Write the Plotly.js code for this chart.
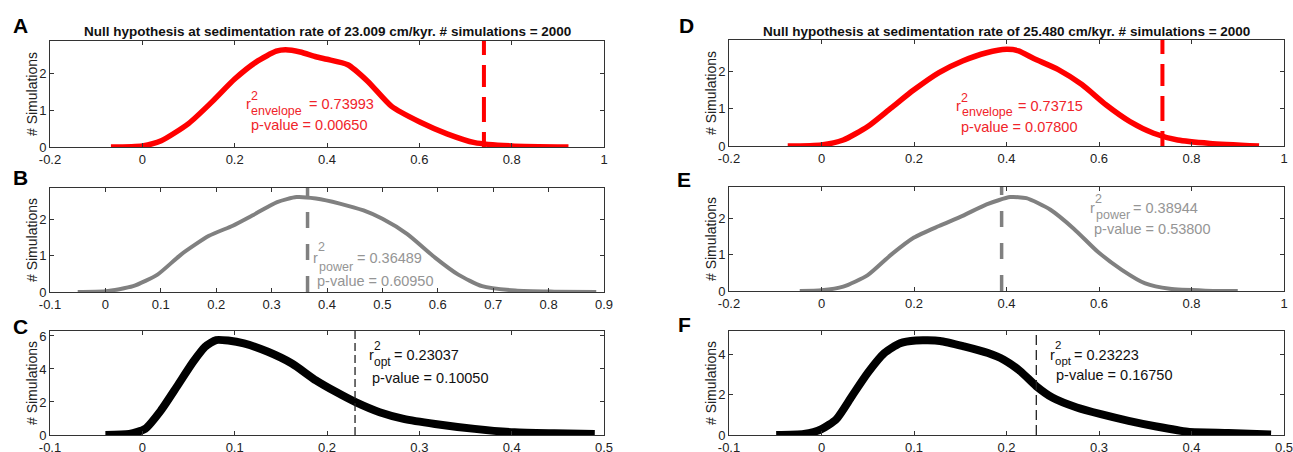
<!DOCTYPE html>
<html><head><meta charset="utf-8">
<script src="https://cdn.plot.ly/plotly-3.0.1.min.js"></script>
<style>html,body{margin:0;padding:0;background:#fff}#chart{width:1293px;height:452px}</style>
</head><body><div id="chart"></div>
<script>
// ---------------- DATA ----------------
const rateLeft = 23.009, rateRight = 25.480, nSimulations = 2000;

// A: envelope, left
const A_x = [-0.068, 0.0, 0.041, 0.10, 0.148, 0.2, 0.247, 0.29, 0.31, 0.342, 0.376, 0.40, 0.445, 0.488, 0.54, 0.6, 0.66, 0.72, 0.8, 0.923];
const A_y = [0, 0.03, 0.17, 0.64, 1.2, 1.86, 2.33, 2.62, 2.66, 2.6, 2.47, 2.40, 2.25, 1.8, 1.11, 0.69, 0.36, 0.12, 0.03, 0];
// B: power, left
const B_x = [-0.05, 0.0, 0.05, 0.094, 0.137, 0.187, 0.23, 0.265, 0.31, 0.345, 0.38, 0.423, 0.466, 0.5, 0.545, 0.595, 0.637, 0.68, 0.74, 0.81, 0.886];
const B_y = [0, 0.02, 0.16, 0.48, 1.04, 1.55, 1.83, 2.11, 2.48, 2.62, 2.58, 2.44, 2.25, 2.02, 1.6, 0.95, 0.48, 0.16, 0.04, 0.01, 0];
// C: opt, left
const C_x = [-0.04, -0.014, 0.003, 0.02, 0.037, 0.055, 0.068, 0.08, 0.093, 0.11, 0.136, 0.162, 0.188, 0.21, 0.231, 0.257, 0.283, 0.317, 0.36, 0.403, 0.446, 0.49];
const C_y = [0, 0.06, 0.37, 1.48, 2.9, 4.43, 5.35, 5.75, 5.72, 5.55, 5.04, 4.33, 3.31, 2.6, 1.99, 1.38, 0.98, 0.67, 0.37, 0.16, 0.1, 0.06];
// D: envelope, right
const D_x = [-0.073, 0.0, 0.047, 0.1, 0.15, 0.2, 0.254, 0.305, 0.357, 0.4, 0.426, 0.46, 0.512, 0.563, 0.615, 0.667, 0.718, 0.77, 0.84, 0.946];
const D_y = [0, 0.03, 0.16, 0.52, 1.01, 1.5, 1.96, 2.27, 2.49, 2.58, 2.54, 2.33, 2.04, 1.64, 1.1, 0.65, 0.34, 0.16, 0.07, 0];
// E: power, right
const E_x = [-0.047, 0.0, 0.047, 0.1, 0.15, 0.2, 0.254, 0.305, 0.357, 0.408, 0.443, 0.495, 0.546, 0.598, 0.65, 0.7, 0.753, 0.83, 0.9];
const E_y = [0, 0.02, 0.12, 0.44, 1.0, 1.48, 1.8, 2.08, 2.4, 2.6, 2.57, 2.25, 1.72, 1.08, 0.58, 0.21, 0.06, 0.01, 0];
// F: opt, right
const F_x = [-0.049, -0.019, 0.0, 0.016, 0.033, 0.05, 0.068, 0.085, 0.102, 0.128, 0.154, 0.18, 0.197, 0.215, 0.232, 0.25, 0.276, 0.302, 0.332, 0.362, 0.396, 0.44, 0.486];
const F_y = [0, 0.05, 0.29, 0.78, 1.93, 3.07, 4.05, 4.54, 4.67, 4.65, 4.38, 4.05, 3.72, 3.15, 2.42, 1.84, 1.36, 1.03, 0.7, 0.42, 0.16, 0.1, 0.03];

// statistics [left, right]
const r2Envelope = [0.73993, 0.73715], pEnvelope = [0.00650, 0.07800];
const r2Power    = [0.36489, 0.38944], pPower    = [0.60950, 0.53800];
const r2Opt      = [0.23037, 0.23223], pOpt      = [0.10050, 0.16750];

// tick values / labels
const xTicksWide = [-0.2, 0, 0.2, 0.4, 0.6, 0.8, 1];
const xLabelsWide = ["-0.2", "0", "0.2", "0.4", "0.6", "0.8", "1"];
const xTicksB = [-0.1, 0, 0.1, 0.2, 0.3, 0.4, 0.5, 0.6, 0.7, 0.8, 0.9];
const xLabelsB = ["-0.1", "0", "0.1", "0.2", "0.3", "0.4", "0.5", "0.6", "0.7", "0.8", "0.9"];
const xTicksOpt = [-0.1, 0, 0.1, 0.2, 0.3, 0.4, 0.5];
const xLabelsOpt = ["-0.1", "0", "0.1", "0.2", "0.3", "0.4", "0.5"];
const yTicksSmall = [0, 1, 2];
const yTicksC = [0, 2, 4, 6];
const yTicksF = [0, 2, 4];

// ---------------- LAYOUT ----------------
const W = 1293, H = 452;
const FONT = '"Liberation Sans", Arial, Helvetica, sans-serif';
const xd = (a, b) => [a / W, b / W];
const yd = (t, b) => [1 - b / H, 1 - t / H];
const RED = '#ff0000', GRAY = '#808080', BLACK = '#000000';
const REDTXT = '#f0242a', GRAYTXT = '#959595', BLACKTXT = '#111111';

const panels = [
  {L:'A', x:A_x, y:A_y, xr:[-0.2,1], yr:[0,2.9], xt:xTicksWide, xl:xLabelsWide, yt:yTicksSmall, col:[50,604], row:[41,147],
   line:{color:RED,width:5.5}, r2:r2Envelope[0], p:pEnvelope[0], sub:'envelope', sf:12.5, tc:REDTXT,
   vl:{color:RED,width:4,dash:'15px,10px,25px,10px,22px,10px,14px,20px'},
   t:{x0:0.2215,y1:1.17,ysup:1.40,ysub:0.99,eq:63.5,x2:0.234,y2:0.61}, letter:[20,25]},
  {L:'B', x:B_x, y:B_y, xr:[-0.1,0.9], yr:[0,2.87], xt:xTicksB, xl:xLabelsB, yt:yTicksSmall, col:[50,604], row:[188,292],
   line:{color:GRAY,width:4}, r2:r2Power[0], p:pPower[0], sub:'power', sf:12.5, tc:GRAYTXT,
   vl:{color:GRAY,width:3.5,dash:'16px,16px'},
   t:{x0:0.373,y1:0.93,ysup:1.23,ysub:0.69,eq:43.6,x2:0.380,y2:0.30}, letter:[20,177]},
  {L:'C', x:C_x, y:C_y, xr:[-0.1,0.5], yr:[0,6.3], xt:xTicksOpt, xl:xLabelsOpt, yt:yTicksC, col:[50,604], row:[331,435],
   line:{color:BLACK,width:8}, r2:r2Opt[0], p:pOpt[0], sub:'opt', sf:12, tc:BLACKTXT,
   vl:{color:'#222',width:1.3,dash:'8px,4px'},
   t:{x0:0.244,y1:4.85,ysup:5.42,ysub:4.45,eq:25.8,x2:0.248,y2:3.43}, letter:[20,326]},
  {L:'D', x:D_x, y:D_y, xr:[-0.2,1], yr:[0,2.83], xt:xTicksWide, xl:xLabelsWide, yt:yTicksSmall, col:[729,1284], row:[40,146],
   line:{color:RED,width:5.5}, r2:r2Envelope[1], p:pEnvelope[1], sub:'envelope', sf:12.5, tc:REDTXT,
   vl:{color:RED,width:4,dash:'15px,10px,25px,10px,22px,10px,14px,20px'},
   t:{x0:0.289,y1:1.06,ysup:1.29,ysub:0.90,eq:62,x2:0.300,y2:0.52}, letter:[686,26]},
  {L:'E', x:E_x, y:E_y, xr:[-0.2,1], yr:[0,2.88], xt:xTicksWide, xl:xLabelsWide, yt:yTicksSmall, col:[729,1284], row:[187,291],
   line:{color:GRAY,width:4}, r2:r2Power[1], p:pPower[1], sub:'power', sf:12.5, tc:GRAYTXT,
   vl:{color:GRAY,width:3.5,dash:'16px,16px'},
   t:{x0:0.579,y1:2.29,ysup:2.56,ysub:2.11,eq:42.8,x2:0.588,y2:1.71}, letter:[684,179]},
  {L:'F', x:F_x, y:F_y, xr:[-0.1,0.5], yr:[0,5.14], xt:xTicksOpt, xl:xLabelsOpt, yt:yTicksF, col:[729,1284], row:[331,435],
   line:{color:BLACK,width:8}, r2:r2Opt[1], p:pOpt[1], sub:'opt', sf:11.5, tc:BLACKTXT,
   vl:{color:'#222',width:1.3,dash:'10px,5px'},
   t:{x0:0.2455,y1:3.97,ysup:4.47,ysub:3.66,eq:24,x2:0.252,y2:2.97}, letter:[684,324]}
];

const traces = [], shapes = [], annotations = [];
const layout = {
  width: W, height: H, margin:{l:0,r:0,t:0,b:0}, showlegend:false,
  paper_bgcolor:'#fff', plot_bgcolor:'#fff', font:{family:FONT, color:'#222'}
};

panels.forEach((P, i) => {
  const n = i + 1;
  const xa = n === 1 ? 'xaxis' : 'xaxis' + n, ya = n === 1 ? 'yaxis' : 'yaxis' + n;
  const xr = n === 1 ? 'x' : 'x' + n, yr = n === 1 ? 'y' : 'y' + n;
  const axCommon = {showline:true, linecolor:'#333', linewidth:1, mirror:'allticks', ticks:'inside', ticklen:4,
    tickcolor:'#333', tickwidth:1, showgrid:false, zeroline:false, fixedrange:true, ticklabeloverflow:'allow',
    tickfont:{family:FONT, size:13, color:'#222'}};
  layout[xa] = Object.assign({}, axCommon, {domain:xd(P.col[0],P.col[1]), range:P.xr, anchor:yr,
    tickmode:'array', tickvals:P.xt, ticktext:P.xl});
  layout[ya] = Object.assign({}, axCommon, {domain:yd(P.row[0],P.row[1]), range:P.yr, anchor:xr,
    tickmode:'array', tickvals:P.yt, ticktext:P.yt.map(String)});

  traces.push({type:'scatter', mode:'lines', x:P.x, y:P.y, xaxis:xr, yaxis:yr,
    line:{color:P.line.color, width:P.line.width, shape:'spline', smoothing:0.6}, hoverinfo:'skip'});

  shapes.push({type:'line', xref:xr, yref:yr + ' domain', x0:P.r2, x1:P.r2, y0:0, y1:1,
    line:{color:P.vl.color, width:P.vl.width, dash:P.vl.dash}, layer:'above'});

  const base = {xref:xr, yref:yr, showarrow:false, xanchor:'left', yanchor:'middle', borderpad:0};
  const f = (s) => ({family:FONT, size:s, color:P.tc});
  annotations.push(Object.assign({}, base, {x:P.t.x0, y:P.t.y1, text:'r', font:f(14.5)}));
  annotations.push(Object.assign({}, base, {x:P.t.x0, y:P.t.ysup, xshift:5, text:'2', font:f(P.sf)}));
  annotations.push(Object.assign({}, base, {x:P.t.x0, y:P.t.ysub, xshift:5.5, text:P.sub, font:f(P.sf)}));
  annotations.push(Object.assign({}, base, {x:P.t.x0, y:P.t.y1, xshift:P.t.eq, text:'= ' + P.r2.toFixed(5), font:f(14.5)}));
  annotations.push(Object.assign({}, base, {x:P.t.x2, y:P.t.y2, text:'p-value = ' + P.p.toFixed(5), font:f(14.5)}));

  // panel letter
  annotations.push({xref:'paper', yref:'paper', x:P.letter[0]/W, y:1-P.letter[1]/H, xanchor:'center', yanchor:'middle',
    showarrow:false, text:'<b>' + P.L + '</b>', font:{family:FONT, size:21, color:'#000'}});
  // y-axis title
  const yc = (P.row[0] + P.row[1]) / 2;
  annotations.push({xref:'paper', yref:'paper', x:(P.col[0] < 300 ? 32 : 711)/W, y:1-yc/H, xanchor:'center', yanchor:'middle',
    textangle:-90, showarrow:false, text:'# Simulations', font:{family:FONT, size:14, color:'#222'}});
});

// column titles
[[rateLeft, 50, 604], [rateRight, 729, 1284]].forEach(([rate, a, b]) => {
  annotations.push({xref:'paper', yref:'paper', x:((a+b)/2)/W, y:1-31/H, xanchor:'center', yanchor:'middle', showarrow:false,
    text:'<b>Null hypothesis at sedimentation rate of ' + rate.toFixed(3) + ' cm/kyr. # simulations = ' + nSimulations + '</b>',
    font:{family:FONT, size:13.5, color:'#111'}});
});

layout.shapes = shapes;
layout.annotations = annotations;
Plotly.newPlot('chart', traces, layout, {displayModeBar:false, staticPlot:true});
</script></body></html>
